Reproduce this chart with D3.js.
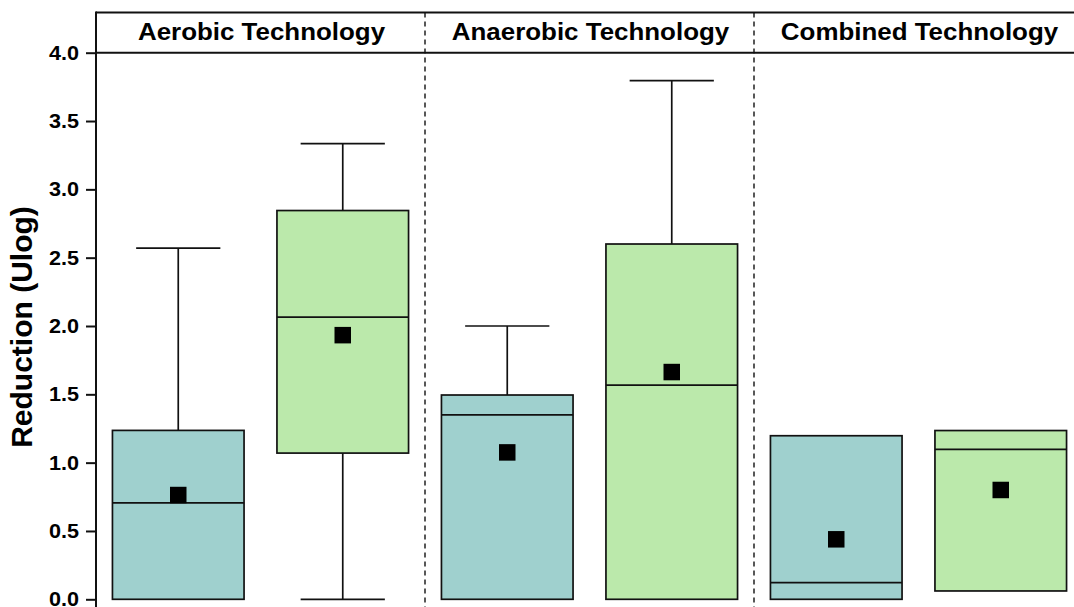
<!DOCTYPE html>
<html>
<head>
<meta charset="utf-8">
<script src="https://cdn.jsdelivr.net/npm/d3@7"></script>
<style>
  html, body { margin: 0; padding: 0; background: #fff; }
  svg { display: block; font-family: "Liberation Sans", Arial, sans-serif; }
</style>
</head>
<body>
<svg id="chart" width="1074" height="607"></svg>
<script>
// Treatment technologies (panels) and the two groups compared in each
const categories = ["Aerobic Technology", "Anaerobic Technology", "Combined Technology"];
const groups = ["blue", "green"];

// Box statistics per group, one value per technology (Ulog reduction)
const blueWhiskerLow  = [0, 0, 0];
const blueQ1          = [0, 0, 0];
const blueMedian      = [0.705, 1.35, 0.122];
const blueQ3          = [1.236, 1.495, 1.197];
const blueWhiskerHigh = [2.57, 2.0, 1.197];
const blueMean        = [0.763, 1.075, 0.439];

const greenWhiskerLow  = [0, 0, 0.061];
const greenQ1          = [1.07, 0, 0.061];
const greenMedian      = [2.065, 1.568, 1.097];
const greenQ3          = [2.845, 2.60, 1.235];
const greenWhiskerHigh = [3.335, 3.795, 1.235];
const greenMean        = [1.933, 1.663, 0.80];

const yTicks = [0, 0.5, 1.0, 1.5, 2.0, 2.5, 3.0, 3.5, 4.0];
const yTitle = "Reduction (Ulog)";

const fills = { blue: "#9fd0ce", green: "#bbe9ab" };

const stats = {
  blue:  { lo: blueWhiskerLow,  q1: blueQ1,  med: blueMedian,  q3: blueQ3,  hi: blueWhiskerHigh,  mean: blueMean },
  green: { lo: greenWhiskerLow, q1: greenQ1, med: greenMedian, q3: greenQ3, hi: greenWhiskerHigh, mean: greenMean }
};

const boxes = [];
categories.forEach((c, i) => {
  groups.forEach(g => {
    const s = stats[g];
    boxes.push({ cat: c, group: g, lo: s.lo[i], q1: s.q1[i], med: s.med[i], q3: s.q3[i], hi: s.hi[i], mean: s.mean[i] });
  });
});

const svg = d3.select("#chart");
const left = 96, right = 1083, headerTop = 12.5, plotTop = 52.7, plotBottom = 599.3;
const widen = 1.08; // slightly wide lettering

const y = d3.scaleLinear().domain([0, 4]).range([plotBottom, plotTop]);
const xPanel = d3.scaleBand().domain(categories).range([left, right]).padding(0);
const xGroup = d3.scalePoint().domain(groups).range([0, xPanel.bandwidth()]).padding(0.5);
const boxW = xPanel.bandwidth() * 0.4;
const capW = boxW * 0.64;

const ink = "#111";

// Panel headers
svg.append("line")
  .attr("x1", left).attr("x2", right + 10)
  .attr("y1", headerTop).attr("y2", headerTop)
  .attr("stroke", ink).attr("stroke-width", 2);
svg.append("line")
  .attr("x1", left).attr("x2", right + 10)
  .attr("y1", y(4)).attr("y2", y(4))
  .attr("stroke", ink).attr("stroke-width", 2);

svg.selectAll("g.header")
  .data(categories)
  .join("g")
  .attr("class", "header")
  .attr("transform", d => `translate(${xPanel(d) + xPanel.bandwidth() / 2 + 1},40.3)`)
  .append("text")
  .attr("transform", `scale(${widen},1)`)
  .attr("text-anchor", "middle")
  .attr("font-size", 24)
  .attr("font-weight", "bold")
  .attr("fill", "#000")
  .text(d => d);

// Dashed dividers between panels
svg.selectAll("line.divider")
  .data(categories.slice(1))
  .join("line")
  .attr("class", "divider")
  .attr("x1", d => xPanel(d)).attr("x2", d => xPanel(d))
  .attr("y1", headerTop).attr("y2", 607)
  .attr("stroke", ink).attr("stroke-width", 1.4)
  .attr("stroke-dasharray", "5,4");

// Y axis
const tickSize = 10, tickPad = 7;
const yAxis = d3.axisLeft(y)
  .tickValues(yTicks)
  .tickFormat(d3.format(".1f"))
  .tickSize(tickSize)
  .tickPadding(tickPad);

const gy = svg.append("g")
  .attr("transform", `translate(${left},0)`)
  .call(yAxis);
gy.select(".domain").remove();
gy.selectAll(".tick line").attr("stroke", ink).attr("stroke-width", 2);
gy.selectAll(".tick text")
  .attr("x", -(tickSize + tickPad) / widen)
  .attr("transform", `scale(${widen},1)`)
  .attr("font-size", 20)
  .attr("font-weight", "bold")
  .attr("fill", "#000")
  .attr("font-family", "'Liberation Sans', Arial, sans-serif");

svg.append("line")
  .attr("x1", left).attr("x2", left)
  .attr("y1", headerTop - 1).attr("y2", 610)
  .attr("stroke", ink).attr("stroke-width", 2);

svg.append("text")
  .attr("transform", `translate(32,327) rotate(-90)`)
  .attr("text-anchor", "middle")
  .attr("font-size", 30)
  .attr("font-weight", "bold")
  .attr("fill", "#000")
  .text(yTitle);

// Box plots
const bg = svg.append("g");
const cx = d => xPanel(d.cat) + xGroup(d.group);

const g = bg.selectAll("g.box").data(boxes).join("g").attr("class", "box");

// upper whisker
g.filter(d => d.hi > d.q3).append("line")
  .attr("x1", cx).attr("x2", cx)
  .attr("y1", d => y(d.q3)).attr("y2", d => y(d.hi))
  .attr("stroke", ink).attr("stroke-width", 1.7);
g.filter(d => d.hi > d.q3).append("line")
  .attr("x1", d => cx(d) - capW / 2).attr("x2", d => cx(d) + capW / 2)
  .attr("y1", d => y(d.hi)).attr("y2", d => y(d.hi))
  .attr("stroke", ink).attr("stroke-width", 1.7);

// lower whisker
g.filter(d => d.lo < d.q1).append("line")
  .attr("x1", cx).attr("x2", cx)
  .attr("y1", d => y(d.q1)).attr("y2", d => y(d.lo))
  .attr("stroke", ink).attr("stroke-width", 1.7);
g.filter(d => d.lo < d.q1).append("line")
  .attr("x1", d => cx(d) - capW / 2).attr("x2", d => cx(d) + capW / 2)
  .attr("y1", d => y(d.lo)).attr("y2", d => y(d.lo))
  .attr("stroke", ink).attr("stroke-width", 1.7);

// box body
g.append("rect")
  .attr("x", d => cx(d) - boxW / 2)
  .attr("width", boxW)
  .attr("y", d => y(d.q3))
  .attr("height", d => y(d.q1) - y(d.q3))
  .attr("fill", d => fills[d.group])
  .attr("stroke", ink).attr("stroke-width", 1.7);

// median
g.append("line")
  .attr("x1", d => cx(d) - boxW / 2).attr("x2", d => cx(d) + boxW / 2)
  .attr("y1", d => y(d.med)).attr("y2", d => y(d.med))
  .attr("stroke", ink).attr("stroke-width", 1.7);

// mean marker
const ms = 16.5;
g.append("rect")
  .attr("x", d => cx(d) - ms / 2)
  .attr("y", d => y(d.mean) - ms / 2)
  .attr("width", ms).attr("height", ms)
  .attr("fill", "#000");
</script>
</body>
</html>
